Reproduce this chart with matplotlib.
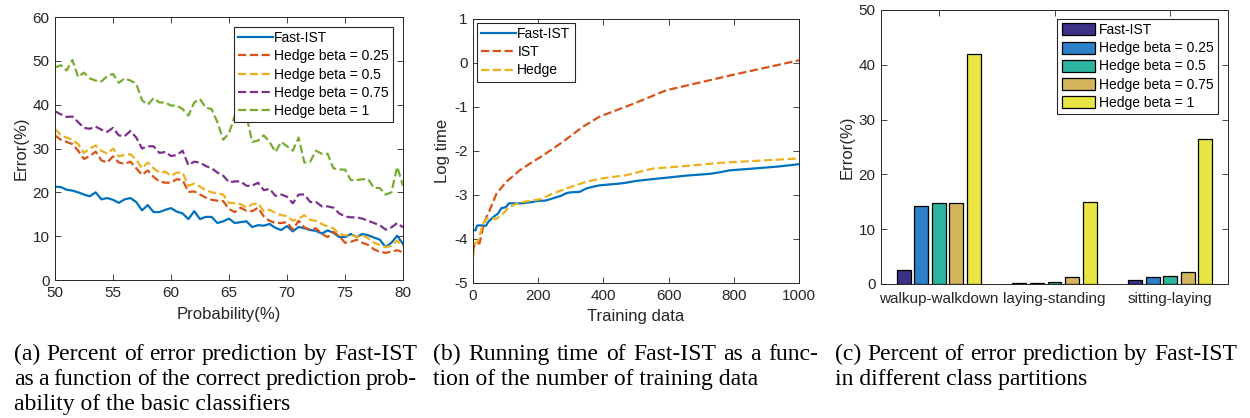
import numpy as np
import matplotlib
matplotlib.use("Agg")
from matplotlib import pyplot as plt

plt.rcParams['font.family'] = ['Liberation Sans', 'DejaVu Sans']
plt.rcParams['axes.linewidth'] = 0.7
plt.rcParams['axes.unicode_minus'] = False

# ---- panel (a) data ----
prob = [50, 50.5, 51, 51.5, 52, 52.5, 53, 53.5, 54, 54.5, 55, 55.5, 56, 56.5, 57, 57.5,
        58, 58.5, 59, 59.5, 60, 60.5, 61, 61.5, 62, 62.5, 63, 63.5, 64, 64.5, 65, 65.5,
        66, 66.5, 67, 67.5, 68, 68.5, 69, 69.5, 70, 70.5, 71, 71.5, 72, 72.5, 73, 73.5,
        74, 74.5, 75, 75.5, 76, 76.5, 77, 77.5, 78, 78.5, 79, 79.5, 80]
err_fast = [21.3, 21.2, 20.6, 20.4, 20.0, 19.5, 19.1, 20.0, 18.4, 18.7, 18.3, 17.6, 18.4, 18.7,
            17.8, 15.9, 17.1, 15.5, 15.5, 16.0, 16.4, 15.6, 15.2, 13.9, 15.7, 13.9, 14.4, 14.4,
            13.0, 13.4, 14.0, 13.0, 13.2, 13.4, 12.1, 12.5, 12.4, 12.8, 11.9, 11.4, 12.3, 11.1,
            12.1, 11.8, 11.4, 11.2, 10.6, 11.3, 10.8, 9.8, 9.8, 10.5, 9.8, 10.5, 10.2, 9.7,
            9.2, 7.5, 8.5, 10.1, 8.2]
err_h025 = [33.0, 32.0, 31.5, 31.0, 29.5, 27.6, 28.3, 29.3, 27.3, 26.8, 28.2, 26.8, 26.5, 27.0,
            25.5, 24.0, 25.0, 23.5, 22.5, 22.2, 22.2, 23.0, 22.8, 20.1, 20.2, 19.5, 18.8, 18.3,
            18.1, 18.0, 16.2, 15.5, 16.5, 15.8, 15.7, 16.5, 14.5, 13.5, 13.0, 13.0, 13.2, 11.5,
            13.5, 12.0, 11.5, 11.8, 10.5, 9.8, 11.0, 10.0, 8.5, 8.7, 9.2, 8.5, 8.0, 7.0,
            6.4, 6.2, 6.5, 6.8, 6.3]
err_h05 = [34.5, 33.0, 32.5, 32.0, 31.0, 29.0, 30.0, 30.7, 29.5, 28.8, 30.0, 28.2, 28.6, 28.7,
           27.5, 25.5, 26.8, 25.5, 24.5, 24.7, 23.8, 24.5, 24.5, 21.5, 22.0, 21.3, 20.5, 20.0,
           19.8, 19.5, 17.6, 17.5, 17.3, 16.5, 17.3, 17.5, 15.7, 16.0, 15.3, 14.8, 14.6, 13.5,
           14.0, 14.8, 13.7, 13.5, 12.8, 12.2, 11.8, 10.5, 10.2, 10.3, 9.8, 10.2, 9.5, 8.5,
           8.0, 7.5, 7.8, 9.0, 7.6]
err_h075 = [38.5, 37.8, 37.2, 37.3, 36.0, 34.7, 34.5, 35.0, 34.3, 33.8, 34.7, 33.0, 32.8, 34.0,
            32.5, 30.0, 30.5, 30.5, 29.0, 29.2, 28.3, 28.5, 29.5, 26.2, 27.0, 26.8, 26.0, 25.5,
            24.5, 23.8, 22.3, 22.5, 22.5, 21.5, 21.5, 22.2, 20.5, 20.8, 19.2, 19.5, 19.0, 17.5,
            19.5, 19.5, 17.8, 17.8, 16.8, 16.8, 16.5, 15.2, 14.5, 14.3, 14.3, 14.0, 13.5, 13.0,
            12.5, 11.5, 12.0, 13.0, 12.0]
err_h1 = [48.5, 49.0, 47.8, 50.2, 46.3, 47.3, 46.0, 45.5, 45.3, 46.5, 47.0, 45.0, 46.0, 45.5,
          44.8, 41.0, 40.0, 41.5, 40.5, 40.5, 39.8, 39.8, 39.0, 37.5, 40.5, 41.3, 39.3, 39.0,
          36.0, 32.0, 33.5, 37.5, 38.5, 37.5, 31.5, 31.8, 33.0, 31.5, 29.2, 31.5, 30.5, 29.5,
          32.5, 26.8, 27.0, 29.5, 28.8, 28.8, 25.5, 25.2, 25.2, 22.8, 22.8, 23.0, 23.0, 21.0,
          21.0, 19.5, 20.0, 25.8, 21.5]

# ---- panel (b) data ----
n_fast = [0, 8, 12, 18, 40, 46, 56, 66, 77, 87, 100, 105, 110, 150, 180, 204, 220, 235, 256,
          270, 286, 300, 327, 340, 348, 370, 389, 420, 450, 470, 501, 550, 603, 654, 726, 760,
          787, 859, 941, 1000]
t_fast = [-3.8, -3.8, -3.7, -3.69, -3.7, -3.62, -3.54, -3.48, -3.42, -3.3, -3.28, -3.24, -3.19,
          -3.19, -3.16, -3.13, -3.13, -3.1, -3.05, -3.02, -2.96, -2.94, -2.93, -2.88, -2.85,
          -2.81, -2.78, -2.76, -2.74, -2.72, -2.68, -2.64, -2.6, -2.56, -2.52, -2.48, -2.44,
          -2.4, -2.35, -2.3]
n_ist = [0, 5, 20, 31, 41, 51, 72, 102, 143, 174, 215, 276, 337, 388, 491, 593, 797, 1000]
t_ist = [-4.3, -4.1, -4.1, -3.73, -3.5, -3.35, -2.97, -2.7, -2.44, -2.29, -2.1, -1.79, -1.45,
         -1.22, -0.93, -0.62, -0.27, 0.06]
n_hedge = [0, 5, 15, 31, 41, 72, 92, 112, 143, 204, 235, 286, 348, 389, 470, 552, 654, 757, 1000]
t_hedge = [-4.4, -4.1, -4.05, -3.65, -3.54, -3.54, -3.42, -3.27, -3.17, -3.1, -3.0, -2.85,
           -2.7, -2.63, -2.55, -2.4, -2.34, -2.27, -2.17]

# ---- panel (c) data ----
partitions = ["walkup-walkdown", "laying-standing", "sitting-laying"]
bar_labels = ["Fast-IST", "Hedge beta = 0.25", "Hedge beta = 0.5", "Hedge beta = 0.75", "Hedge beta = 1"]
bar_vals = [[2.6, 0.2, 0.8],
            [14.3, 0.2, 1.2],
            [14.7, 0.4, 1.5],
            [14.7, 1.2, 2.2],
            [41.9, 15.0, 26.5]]

mat_blue, mat_red, mat_yel, mat_pur, mat_grn = "#0072BD", "#D95319", "#EDB120", "#7E2F8E", "#77AC30"
bar_colors = ["#3b3288", "#2b80c9", "#2db39e", "#d3b65c", "#e8e545"]
txt = "#262626"


def matlab_axes(ax):
    ax.tick_params(direction="in", top=True, right=True, length=4, width=0.6,
                   labelsize=11, colors=txt, pad=4)
    for s in ax.spines.values():
        s.set_color(txt)


def legend_style(leg):
    fr = leg.get_frame()
    fr.set_edgecolor("#262626")
    fr.set_linewidth(0.8)
    fr.set_boxstyle("square", pad=0)


fig = plt.figure(figsize=(12.5, 4.18), dpi=100)
lab_fs = 12
leg_kw = dict(fontsize=10, labelspacing=0.3, borderpad=0.3, fancybox=False, framealpha=1,
              borderaxespad=0)

# (a)
ax1 = fig.add_axes([0.044, 0.3301, 0.2784, 0.6292])
ax1.plot(prob, err_fast, color=mat_blue, lw=1.6, label="Fast-IST")
ax1.plot(prob, err_h025, "--", color=mat_red, lw=1.6, label="Hedge beta = 0.25")
ax1.plot(prob, err_h05, "--", color=mat_yel, lw=1.6, label="Hedge beta = 0.5")
ax1.plot(prob, err_h075, "--", color=mat_pur, lw=1.6, label="Hedge beta = 0.75")
ax1.plot(prob, err_h1, "--", color=mat_grn, lw=1.6, label="Hedge beta = 1")
ax1.set_xlim(50, 80)
ax1.set_ylim(0, 60)
ax1.set_xticks(range(50, 81, 5))
ax1.set_yticks(range(0, 61, 10))
ax1.set_xlabel("Probability(%)", fontsize=lab_fs, color=txt, labelpad=5)
ax1.set_ylabel("Error(%)", fontsize=lab_fs, color=txt, labelpad=3)
matlab_axes(ax1)
leg = ax1.legend(loc="upper right", bbox_to_anchor=(1 - 10 / 348, 1 - 10 / 263),
                 handlelength=2.5, handletextpad=0.1, **leg_kw)
legend_style(leg)

# (b)
ax2 = fig.add_axes([0.3784, 0.323, 0.2608, 0.6316])
ax2.plot(n_fast, t_fast, color=mat_blue, lw=1.6, label="Fast-IST")
ax2.plot(n_ist, t_ist, "--", color=mat_red, lw=1.6, label="IST")
ax2.plot(n_hedge, t_hedge, "--", color=mat_yel, lw=1.6, label="Hedge")
ax2.set_xlim(0, 1000)
ax2.set_ylim(-5, 1)
ax2.set_xticks(range(0, 1001, 200))
ax2.set_yticks(range(-5, 2))
ax2.set_xlabel("Training data", fontsize=lab_fs, color=txt, labelpad=5)
ax2.set_ylabel("Log time", fontsize=lab_fs, color=txt, labelpad=3)
matlab_axes(ax2)
leg = ax2.legend(loc="upper left", bbox_to_anchor=(4 / 326, 1 - 4 / 264),
                 handlelength=2.5, handletextpad=0.1, **leg_kw)
legend_style(leg)

# (c)
ax3 = fig.add_axes([0.7048, 0.3206, 0.2776, 0.6555])
xc = np.arange(1, len(partitions) + 1)
slot, bw = 0.152, 0.121
for i, (lab, vals) in enumerate(zip(bar_labels, bar_vals)):
    ax3.bar(xc + (i - 2) * slot, vals, width=bw, color=bar_colors[i], edgecolor="black",
            linewidth=0.9, label=lab)
ax3.set_xlim(0.5, 3.5)
ax3.set_ylim(0, 50)
ax3.set_xticks(xc)
ax3.set_xticklabels(partitions)
ax3.set_yticks(range(0, 51, 10))
ax3.set_ylabel("Error(%)", fontsize=lab_fs, color=txt, labelpad=3)
matlab_axes(ax3)
ax3.tick_params(axis="x", bottom=False, pad=6)
leg = ax3.legend(loc="upper right", bbox_to_anchor=(1 - 10 / 347, 1 - 9 / 274),
                 handlelength=2.4, handleheight=0.95, handletextpad=0.3, **leg_kw)
legend_style(leg)

# captions (justified)
captions = [
    (14, 417, ["(a) Percent of error prediction by Fast-IST",
               "as a function of the correct prediction prob-",
               "ability of the basic classifiers"]),
    (433, 818, ["(b) Running time of Fast-IST as a func-",
                "tion of the number of training data"]),
    (835, 1237, ["(c) Percent of error prediction by Fast-IST",
                 "in different class partitions"]),
]
baselines = [360, 385, 410]
cap_font = dict(family=["Liberation Serif", "DejaVu Serif"], fontsize=17, color="black")
renderer = fig.canvas.get_renderer()
H = 418.0
for x0, x1, lines in captions:
    for k, line in enumerate(lines):
        y = 1 - baselines[k] / H
        words = line.split(" ")
        if k == len(lines) - 1:
            fig.text(x0 / 1250, y, line, va="baseline", ha="left", **cap_font)
            continue
        objs = [fig.text(0, y, w, va="baseline", ha="left", **cap_font) for w in words]
        widths = [o.get_window_extent(renderer).width for o in objs]
        gap = ((x1 - x0) - sum(widths)) / (len(words) - 1)
        xp = x0
        for o, w in zip(objs, widths):
            o.set_x(xp / 1250)
            xp += w + gap

fig.savefig("out.png", dpi=100)
